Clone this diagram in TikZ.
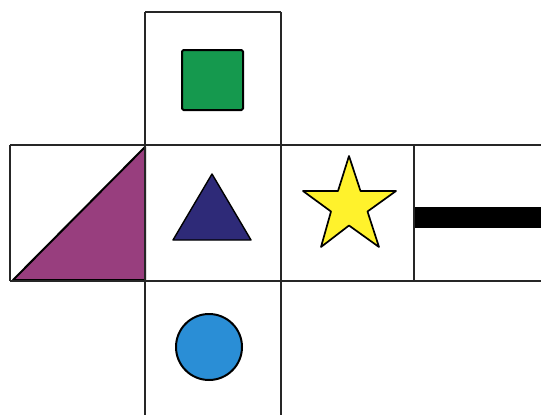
\documentclass[tikz,border=0pt]{standalone}
\begin{document}
\begin{tikzpicture}[x=1pt,y=-1pt,
  cellline/.style={draw=black!85, line width=2.2pt},
  shapeline/.style={draw=black, line width=2pt, line join=round}]
\definecolor{netgreen}{HTML}{15994E}
\definecolor{netpurple}{HTML}{983E7E}
\definecolor{netnavy}{HTML}{2E2A78}
\definecolor{netyellow}{HTML}{FFF22C}
\definecolor{netblue}{HTML}{2A8ED6}
\useasboundingbox (0,0) rectangle (541,415);
\fill[white] (0,0) rectangle (541,415);
% cells
\coordinate (tl) at (145,12);
\coordinate (tr) at (281,12);
\coordinate (ml) at (10,145);
\coordinate (mr) at (541,145);
\coordinate (bl) at (10,281);
\coordinate (br) at (541,281);
\coordinate (c1t) at (145,12);
\coordinate (c1b) at (145,415);
\coordinate (c2t) at (281,12);
\coordinate (c2b) at (281,415);
\coordinate (c3t) at (414,145);
\coordinate (c3b) at (414,281);
% shapes
\node[shapeline, fill=netgreen, minimum width=61pt, minimum height=60pt, inner sep=0pt, rounded corners=1.5pt] (sq) at (212.5,80) {};
\path[shapeline, fill=netpurple] (13,280) -- (145,147) -- (145,280) -- cycle;
\path[shapeline, fill=netnavy, line width=1.4pt] (212,174) -- (251,240) -- (173,240) -- cycle;
\path[shapeline, fill=netyellow, line width=1.7pt]
  (349,156) -- (360.5,191) -- (396,191) -- (367.5,211.5) -- (379,247) -- (349,225.5)
  -- (321,247) -- (331,211.5) -- (303,191) -- (338,191) -- cycle;
\node[shapeline, fill=netblue, circle, minimum size=66pt, inner sep=0pt] (ci) at (209,347) {};
\fill[black] (414,207) rectangle (541,228);
% grid lines
\draw[cellline] (tl) -- (tr);
\draw[cellline] (ml) -- (mr);
\draw[cellline] (bl) -- (br);
\draw[cellline] (c1t) -- (c1b);
\draw[cellline] (c2t) -- (c2b);
\draw[cellline] (c3t) -- (c3b);
\draw[cellline] (ml) -- (bl);
\end{tikzpicture}
\end{document}
